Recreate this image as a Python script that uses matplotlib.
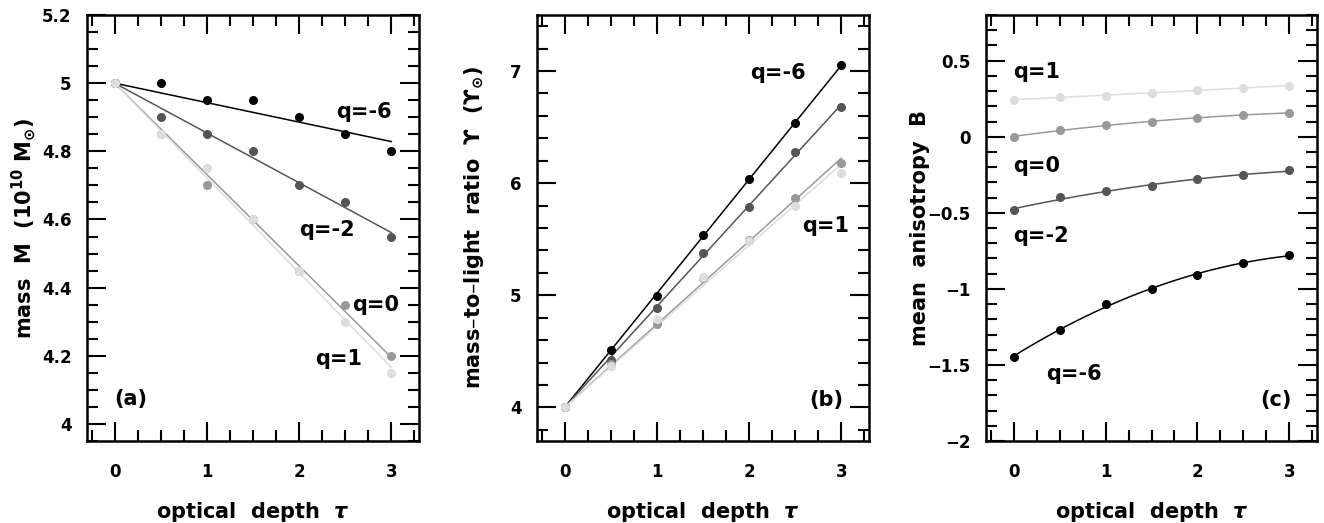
import numpy as np
import matplotlib
matplotlib.use("Agg")
import matplotlib.pyplot as plt
from matplotlib.ticker import MultipleLocator, FuncFormatter

# ---------------- data ----------------
tau = [0.0, 0.5, 1.0, 1.5, 2.0, 2.5, 3.0]
q_labels = ["q=-6", "q=-2", "q=0", "q=1"]
colors = ["#000000", "#555555", "#999999", "#dddddd"]

mass_q_m6 = [5.00, 5.00, 4.95, 4.95, 4.90, 4.85, 4.80]
mass_q_m2 = [5.00, 4.90, 4.85, 4.80, 4.70, 4.65, 4.55]
mass_q_0 = [5.00, 4.85, 4.70, 4.60, 4.45, 4.35, 4.20]
mass_q_1 = [5.00, 4.85, 4.75, 4.60, 4.45, 4.30, 4.15]

ml_q_m6 = [4.00, 4.51, 4.99, 5.54, 6.04, 6.54, 7.05]
ml_q_m2 = [4.00, 4.42, 4.89, 5.38, 5.79, 6.28, 6.68]
ml_q_0 = [4.00, 4.39, 4.74, 5.15, 5.49, 5.87, 6.18]
ml_q_1 = [4.00, 4.37, 4.79, 5.16, 5.48, 5.80, 6.09]

aniso_q_m6 = [-1.447, -1.271, -1.099, -1.003, -0.910, -0.833, -0.776]
aniso_q_m2 = [-0.484, -0.396, -0.358, -0.323, -0.279, -0.253, -0.222]
aniso_q_0 = [0.000, 0.042, 0.077, 0.097, 0.125, 0.141, 0.158]
aniso_q_1 = [0.242, 0.264, 0.268, 0.286, 0.308, 0.321, 0.336]

mass_series = [mass_q_m6, mass_q_m2, mass_q_0, mass_q_1]
ml_series = [ml_q_m6, ml_q_m2, ml_q_0, ml_q_1]
aniso_series = [aniso_q_m6, aniso_q_m2, aniso_q_0, aniso_q_1]

# ---------------- style ----------------
plt.rcParams["font.family"] = ["DejaVu Sans"]
plt.rcParams["font.weight"] = "bold"
plt.rcParams["mathtext.default"] = "regular"

W, H = 1324, 523
fig = plt.figure(figsize=(W / 100, H / 100), dpi=100)

def px_axes(l, r, t, b):
    return fig.add_axes([l / W, (H - b) / H, (r - l) / W, (b - t) / H])

axA = px_axes(87, 419, 15, 441)
axB = px_axes(537, 869, 15, 441)
axC = px_axes(986, 1317, 15, 441)

TXT = 15

def fmt(v, pos):
    return ("%g" % v).replace("-", "\u2212")

def style(ax, ymaj, ymin, ylab, ylx=-0.19):
    ax.set_xlim(-0.3, 3.3)
    ax.xaxis.set_major_locator(MultipleLocator(1))
    ax.xaxis.set_minor_locator(MultipleLocator(0.25))
    ax.yaxis.set_major_locator(MultipleLocator(ymaj))
    ax.yaxis.set_minor_locator(MultipleLocator(ymin))
    ax.yaxis.set_major_formatter(FuncFormatter(fmt))
    ax.tick_params(which="both", direction="in", top=True, right=True, width=1.5)
    ax.tick_params(which="major", length=14)
    ax.tick_params(which="minor", length=8)
    ax.tick_params(axis="x", which="major", pad=16, labelsize=12)
    ax.tick_params(axis="y", which="major", pad=11, labelsize=12)
    for lab in ax.get_xticklabels() + ax.get_yticklabels():
        lab.set_fontweight("bold")
    for s in ax.spines.values():
        s.set_linewidth(1.8)
    ax.set_xlabel(r"optical  depth  $\mathit{\tau}$", fontsize=TXT, fontweight="bold")
    ax.xaxis.label.set_va("center")
    ax.xaxis.set_label_coords(0.5, -0.167)
    ax.set_ylabel(ylab, fontsize=TXT, fontweight="bold")
    ax.yaxis.label.set_va("center")
    ax.yaxis.set_label_coords(ylx, 0.5)

def label(ax, xx, yy, s, ha="left"):
    ax.text(xx, yy, s, fontsize=TXT, fontweight="bold", va="center", ha=ha)

x = np.array(tau)
xf = np.linspace(0, 3, 100)

# ---- panel (a): linear fit constrained through first point ----
for ys, c in zip(mass_series, colors):
    y = np.array(ys)
    slope = np.sum(x * (y - y[0])) / np.sum(x * x)
    axA.plot(xf, y[0] + slope * xf, color=c, lw=1.1, zorder=2)
for ys, c in zip(mass_series, colors):
    axA.plot(tau, ys, "o", color=c, ms=5.5, mec=c, zorder=3)
axA.set_ylim(3.95, 5.2)
style(axA, 0.2, 0.05, r"mass  M  (10$^{\mathbf{10}}$ M$_{\odot}$)")
label(axA, 2.40, 4.915, q_labels[0])
label(axA, 2.00, 4.568, q_labels[1])
label(axA, 2.57, 4.348, q_labels[2])
label(axA, 2.17, 4.19, q_labels[3])
label(axA, 0.0, 4.073, "(a)")

# ---- panel (b): linear fit constrained through first point ----
for ys, c in zip(ml_series, colors):
    y = np.array(ys)
    slope = np.sum(x * (y - y[0])) / np.sum(x * x)
    axB.plot(xf, y[0] + slope * xf, color=c, lw=1.1, zorder=2)
for ys, c in zip(ml_series, colors):
    axB.plot(tau, ys, "o", color=c, ms=5.5, mec=c, zorder=3)
axB.set_ylim(3.7, 7.5)
style(axB, 1, 0.2, "mass\u2013to\u2013light  ratio  \u03d2  (\u03d2$_{\\odot}$)")
label(axB, 2.01, 6.985, q_labels[0])
label(axB, 2.58, 5.62, q_labels[3])
label(axB, 3.02, 4.07, "(b)", ha="right")

# ---- panel (c): quadratic fits ----
for ys, c in zip(aniso_series, colors):
    p = np.polyfit(x, np.array(ys), 2)
    axC.plot(xf, np.polyval(p, xf), color=c, lw=1.1, zorder=2)
for ys, c in zip(aniso_series, colors):
    axC.plot(tau, ys, "o", color=c, ms=5.5, mec=c, zorder=3)
axC.set_ylim(-2.0, 0.8)
style(axC, 0.5, 0.1, "mean  anisotropy  B", ylx=-0.2)
label(axC, 0.0, 0.427, q_labels[3])
label(axC, 0.0, -0.19, q_labels[2])
label(axC, 0.0, -0.655, q_labels[1])
label(axC, 0.35, -1.56, q_labels[0])
label(axC, 3.02, -1.73, "(c)", ha="right")

fig.savefig("out.png", dpi=100)
